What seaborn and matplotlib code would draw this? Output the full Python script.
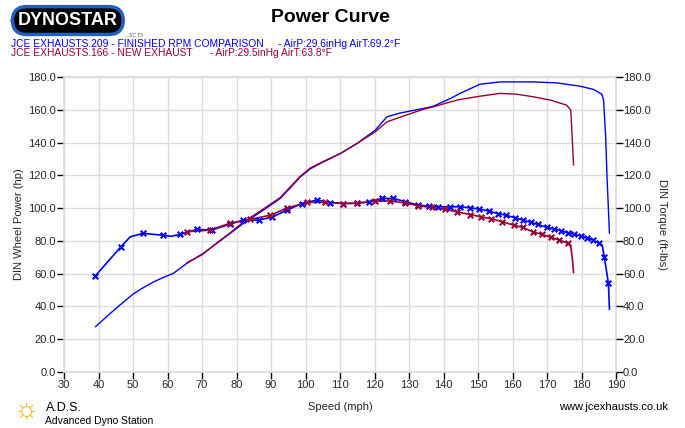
import numpy as np
import pandas as pd
import matplotlib
matplotlib.use("Agg")
import matplotlib.pyplot as plt
import seaborn as sns

# Dados (velocidade em mph)
blue_power_speed = [39.1, 43, 46.3, 50, 53, 56, 58.8, 61.7, 65.6, 70.4, 74.3, 78.2, 82, 84, 87.8, 92.7,
                    98.5, 101.4, 105, 110.1, 114.9, 120.2, 123.6, 127.4, 134.2, 137.1, 142, 144.8, 150.6,
                    156.4, 166.1, 172.9, 179.6, 183.5, 185.9, 186.4, 187, 187.4, 188.1]
blue_power_hp = [27.6, 35, 41, 47.5, 51.5, 55, 57.7, 60.2, 66.3, 72.4, 78.5, 84.6, 90.7, 93.5, 98.8, 105.9,
                 119, 124, 128, 133.3, 139.4, 147.5, 155.7, 158, 160.8, 162.2, 166.9, 170, 175.6,
                 177, 177, 176.4, 174.4, 172.4, 169.5, 165.9, 143.5, 119, 84.6]

red_power_speed = [65.6, 70, 74.3, 78.2, 82, 87.8, 92.7, 98.5, 101.4, 105, 110.1, 114.9, 120.2, 123.6,
                   127.4, 134.2, 137.1, 142, 144.8, 150.6, 156.4, 161.2, 166.1, 171, 175.7, 176.9,
                   177.2, 177.7]
red_power_hp = [66.7, 71.5, 78.8, 85, 91.5, 99.5, 106.5, 119.5, 124.5, 128.3, 133.3, 139.4, 146.5, 152.6,
                155.5, 160.3, 161.8, 164.8, 166.3, 168.3, 170, 169.5, 167.9, 165.9, 162.8, 159.8,
                147.6, 126.2]

blue_torque_speed = [39.1, 46.5, 49.2, 52.9, 58.8, 61, 63.7, 68.5, 72.9, 78, 82, 86.4, 90.3, 94.6, 99,
                     103.3, 107.2, 111, 114.9, 118.3, 122.1, 125.5, 128.8, 132.7, 135.9, 138.5, 142,
                     144.8, 147.7, 150.3, 153.2, 155.7, 158, 160.8, 163, 165.3, 167.5, 169.9, 172.1,
                     174, 176.1, 177.9, 179.9, 181.6, 183.3, 185.2, 186, 186.6, 187.8, 188.1]
blue_torque_ftlb = [58.7, 76.4, 82.5, 84.6, 83.4, 82.8, 84, 87, 86.6, 90.2, 92.7, 92.7, 94.5, 98.8, 102.8,
                    104.9, 103.4, 102.8, 103, 103.7, 105.9, 105.9, 104, 101.8, 101.2, 100.8, 100.8,
                    100.8, 100.2, 99.4, 98.2, 96.7, 95.7, 94.1, 92.7, 91.3, 90, 88.2, 87.2,
                    86.2, 84.9, 84, 82.9, 81.9, 80.5, 78.5, 77.4, 70.3, 54.1, 38.2]
# índices dos pontos com marcador "x"
blue_torque_marks = [0, 1, 3, 4, 6, 7, 8, 9, 10, 11, 12, 13, 14, 15, 16, 17, 18, 19, 20, 21, 22, 23, 24,
                     25, 26, 27, 28, 29, 30, 31, 32, 33, 34, 35, 36, 37, 38, 39, 40, 41, 42, 43, 44, 45,
                     47, 48]

red_torque_speed = [65.6, 72.4, 78, 84, 89.8, 94.6, 100.4, 105.7, 111, 114.9, 120.2, 124.5, 128.8, 132.7,
                    136.6, 140.5, 144, 147.7, 150.8, 153.8, 157.1, 160.3, 163, 165.9, 168.5, 171.2,
                    173.6, 176.1, 176.9, 177.4, 177.7]
red_torque_ftlb = [85.6, 86.6, 90.7, 93.1, 95.7, 100, 103.5, 103.5, 102.8, 103, 104.3, 104.3, 103.2, 101.4,
                   100.4, 99.2, 97.7, 96.1, 94.7, 93.5, 91.7, 89.6, 88.2, 85.5, 84, 82.1,
                   80.5, 78.5, 76.4, 68.3, 60.5]
red_torque_marks = list(range(28))

yticks = np.arange(0, 181, 20)
xticks = np.arange(30, 191, 10)

BLUE = "#0000ff"
RED = "#990033"

sns.set_theme(style="whitegrid")
plt.rcParams["font.family"] = ["Liberation Sans", "DejaVu Sans"]

fig = plt.figure(figsize=(6.85, 4.28), dpi=100)
ax = fig.add_axes([64 / 685, 56 / 428, 552 / 685, 295 / 428])
ax.set_facecolor("white")

# curvas de potência (sem marcadores)
sns.lineplot(x=blue_power_speed, y=blue_power_hp, ax=ax, color=BLUE, lw=1.0, estimator=None, sort=False)
sns.lineplot(x=red_power_speed, y=red_power_hp, ax=ax, color=RED, lw=1.0, estimator=None, sort=False)

# curvas de torque (linha + marcadores x)
for spd, tq, marks, col in [(blue_torque_speed, blue_torque_ftlb, blue_torque_marks, BLUE),
                            (red_torque_speed, red_torque_ftlb, red_torque_marks, RED)]:
    sns.lineplot(x=spd, y=tq, ax=ax, color=col, lw=1.2, estimator=None, sort=False)
    sns.scatterplot(x=[spd[i] for i in marks], y=[tq[i] for i in marks], ax=ax, color=col,
                    marker="x", s=16, linewidth=1.5, zorder=3)

ax.set_xlim(30, 190)
ax.set_ylim(0, 180)
ax.set_xticks(xticks)
ax.set_yticks(yticks)
ax.set_yticklabels([f"{v:.1f}" for v in yticks])
ax.grid(True, color="#dcdcdc", lw=1)
for s in ax.spines.values():
    s.set_color("#dcdcdc")
ax.tick_params(axis="both", which="both", direction="out", length=5, width=1, color="black",
               labelsize=8, pad=1, bottom=True, left=True)
ax.set_xlabel("Speed (mph)", fontsize=8)
ax.set_ylabel("DIN Wheel Power (hp)", fontsize=8, labelpad=3)
ax.xaxis.set_label_coords(0.5, -0.1)

ax2 = ax.twinx()
ax2.set_ylim(0, 180)
ax2.set_yticks(yticks)
ax2.set_yticklabels([f"{v:.1f}" for v in yticks])
ax2.grid(False)
for s in ax2.spines.values():
    s.set_visible(False)
ax2.tick_params(axis="y", direction="out", length=5, width=1, color="black", labelsize=8, pad=0, right=True)
ax2.set_ylabel("DIN Torque (ft-lbs)", fontsize=8, rotation=270, labelpad=12)

# cabeçalho
fig.text(0.099, 0.952, "DYNOSTAR", fontsize=13, fontweight="bold", color="white", ha="center", va="center",
         bbox=dict(boxstyle="round,pad=0.3,rounding_size=0.8", fc="black", ec="#2060c0", lw=2.5))
fig.text(0.183, 0.918, "...SC T3", fontsize=3.5, color="#555555", ha="left", va="center")
fig.text(0.483, 0.96, "Power Curve", fontsize=14, fontweight="bold", color="black", ha="center", va="center")
fig.text(0.016, 0.898, "JCE EXHAUSTS.209 - FINISHED RPM COMPARISON     - AirP:29.6inHg AirT:69.2°F",
         fontsize=7.4, color=BLUE, ha="left", va="center")
fig.text(0.016, 0.875, "JCE EXHAUSTS.166 - NEW EXHAUST      - AirP:29.5inHg AirT:63.8°F",
         fontsize=7.4, color=RED, ha="left", va="center")

# rodapé
fig.text(0.038, 0.04, "☼", fontsize=20, color="#f5b000", ha="center", va="center")
fig.text(0.067, 0.047, "A.D.S.", fontsize=9, color="black", ha="left", va="center")
fig.text(0.065, 0.017, "Advanced Dyno Station", fontsize=7.5, color="black", ha="left", va="center")
fig.text(0.975, 0.05, "www.jcexhausts.co.uk", fontsize=8, color="black", ha="right", va="center")

fig.savefig("out.png", dpi=100)
